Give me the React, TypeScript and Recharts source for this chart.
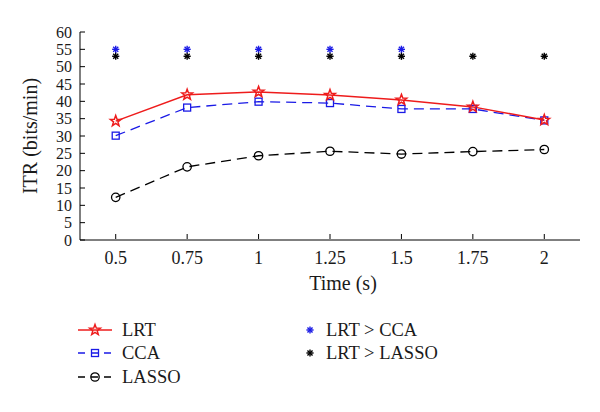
import React from 'react';
import { LineChart, Line, XAxis, YAxis } from 'recharts';

const times = [0.5, 0.75, 1, 1.25, 1.5, 1.75, 2];
const lrt = [34.3, 41.9, 42.7, 41.8, 40.4, 38.4, 34.6];
const cca = [30.1, 38.2, 39.9, 39.5, 37.8, 37.8, 34.5];
const lasso = [12.3, 21.1, 24.3, 25.6, 24.8, 25.5, 26.1];
const sigCca: (number | null)[] = [55, 55, 55, 55, 55, null, null];
const sigLasso: (number | null)[] = [53, 53, 53, 53, 53, 53, 53];
const xTicks = [0.5, 0.75, 1, 1.25, 1.5, 1.75, 2];
const yTicks = [0, 5, 10, 15, 20, 25, 30, 35, 40, 45, 50, 55, 60];

const data = times.map((t, i) => ({
  t,
  lrt: lrt[i],
  cca: cca[i],
  lasso: lasso[i],
  sigCca: sigCca[i],
  sigLasso: sigLasso[i],
}));

const FONT = '"Liberation Serif", serif';
const RED = '#ee1c1c';
const BLUE = '#1a1ae6';
const TXT = '#1a1a1a';

const starPath = (cx: number, cy: number, ro: number, ri: number) => {
  let d = '';
  for (let k = 0; k < 10; k++) {
    const r = k % 2 === 0 ? ro : ri;
    const a = -Math.PI / 2 + (k * Math.PI) / 5;
    d += (k === 0 ? 'M' : 'L') + (cx + r * Math.cos(a)).toFixed(2) + ',' + (cy + r * Math.sin(a)).toFixed(2);
  }
  return d + 'Z';
};

const StarDot = (p: any) => {
  if (p.cx == null || p.cy == null) return null;
  return <path d={starPath(p.cx, p.cy, 5.6, 2.3)} fill="none" stroke={RED} strokeWidth={1.5} />;
};
const SquareDot = (p: any) => {
  if (p.cx == null || p.cy == null) return null;
  return <rect x={p.cx - 3.5} y={p.cy - 3.5} width={7} height={7} fill="none" stroke={BLUE} strokeWidth={1.3} />;
};
const CircleDot = (p: any) => {
  if (p.cx == null || p.cy == null) return null;
  return <circle cx={p.cx} cy={p.cy} r={4.2} fill="none" stroke="#000" strokeWidth={1.3} />;
};
const asterisk = (cx: number, cy: number, r: number, color: string) => {
  const lines = [];
  for (let k = 0; k < 4; k++) {
    const a = (k * Math.PI) / 4;
    lines.push(
      <line key={k} x1={cx - r * Math.cos(a)} y1={cy - r * Math.sin(a)} x2={cx + r * Math.cos(a)} y2={cy + r * Math.sin(a)} stroke={color} strokeWidth={1.4} />
    );
  }
  return <g>{lines}</g>;
};
const makeAst = (color: string) => (p: any) => {
  if (p.cx == null || p.cy == null || p.value == null) return null;
  return asterisk(p.cx, p.cy, 3.6, color);
};

const YTick = (p: any) => {
  const { x, y, payload } = p;
  return (
    <g>
      <line x1={x + 8} x2={x + 13} y1={y} y2={y} stroke="#000" strokeWidth={1} />
      <text x={x} y={y} dy="0.35em" textAnchor="end" fontFamily={FONT} fontSize={16} fill={TXT}>
        {payload.value}
      </text>
    </g>
  );
};
const XTick = (p: any) => {
  const { x, y, payload } = p;
  return (
    <g>
      <line x1={x} x2={x} y1={y - 12} y2={y - 17} stroke="#000" strokeWidth={1} />
      <text x={x} y={y} dy="0.71em" textAnchor="middle" fontFamily={FONT} fontSize={18} fill={TXT}>
        {payload.value}
      </text>
    </g>
  );
};

const LegendRow = ({ top, left, icon, label }: any) => (
  <div style={{ position: 'absolute', top, left, display: 'flex', alignItems: 'center', height: 20 }}>
    {icon}
    <span style={{ fontFamily: FONT, fontSize: 18.5, color: TXT, marginLeft: 10, lineHeight: '20px' }}>{label}</span>
  </div>
);

export default function App() {
  return (
    <div style={{ position: 'absolute', left: 0, top: 0, width: 600, height: 412, background: '#fff' }}>
      <LineChart width={600} height={412} data={data} margin={{ top: 32, right: 20, left: 0, bottom: 122 }}>
        <XAxis
          dataKey="t"
          type="number"
          domain={[0.375, 2.125]}
          ticks={xTicks}
          tickSize={0}
          tickMargin={11}
          tick={<XTick />}
          axisLine={{ stroke: '#000', strokeWidth: 1 }}
          tickLine={false}
          height={50}
          label={{ value: 'Time (s)', position: 'insideBottom', offset: 0, dx: 13, fontFamily: FONT, fontSize: 20, fill: TXT }}
        />
        <YAxis
          type="number"
          domain={[0, 60]}
          ticks={yTicks}
          interval={0}
          tickSize={0}
          tickMargin={8}
          tick={<YTick />}
          axisLine={{ stroke: '#000', strokeWidth: 1 }}
          tickLine={false}
          width={80}
          label={{ value: 'ITR (bits/min)', angle: -90, position: 'insideLeft', offset: 30, style: { textAnchor: 'middle' }, fontFamily: FONT, fontSize: 20, fill: TXT }}
        />
        <Line dataKey="lasso" stroke="#000" strokeWidth={1.3} strokeDasharray="10 6" dot={<CircleDot />} isAnimationActive={false} />
        <Line dataKey="cca" stroke={BLUE} strokeWidth={1.3} strokeDasharray="10 6" dot={<SquareDot />} isAnimationActive={false} />
        <Line dataKey="lrt" stroke={RED} strokeWidth={1.5} dot={<StarDot />} isAnimationActive={false} />
        <Line dataKey="sigCca" stroke="none" dot={makeAst(BLUE)} activeDot={false} isAnimationActive={false} />
        <Line dataKey="sigLasso" stroke="none" dot={makeAst('#000')} activeDot={false} isAnimationActive={false} />
      </LineChart>
      <LegendRow
        top={320}
        left={78}
        label="LRT"
        icon={
          <svg width={34} height={20}>
            <line x1={0} x2={34} y1={10} y2={10} stroke={RED} strokeWidth={1.5} />
            <path d={starPath(17, 10, 5.6, 2.3)} fill="none" stroke={RED} strokeWidth={1.5} />
          </svg>
        }
      />
      <LegendRow
        top={343}
        left={78}
        label="CCA"
        icon={
          <svg width={34} height={20}>
            <line x1={0} x2={34} y1={10} y2={10} stroke={BLUE} strokeWidth={1.3} strokeDasharray="7 6" />
            <rect x={13.5} y={6.5} width={7} height={7} fill="none" stroke={BLUE} strokeWidth={1.3} />
          </svg>
        }
      />
      <LegendRow
        top={367}
        left={78}
        label="LASSO"
        icon={
          <svg width={34} height={20}>
            <line x1={0} x2={34} y1={10} y2={10} stroke="#000" strokeWidth={1.3} strokeDasharray="7 6" />
            <circle cx={17} cy={10} r={4.2} fill="none" stroke="#000" strokeWidth={1.3} />
          </svg>
        }
      />
      <LegendRow top={320} left={304} label="LRT > CCA" icon={<svg width={12} height={20}>{asterisk(6, 10, 3.6, BLUE)}</svg>} />
      <LegendRow top={343} left={304} label="LRT > LASSO" icon={<svg width={12} height={20}>{asterisk(6, 10, 3.6, '#000')}</svg>} />
    </div>
  );
}
